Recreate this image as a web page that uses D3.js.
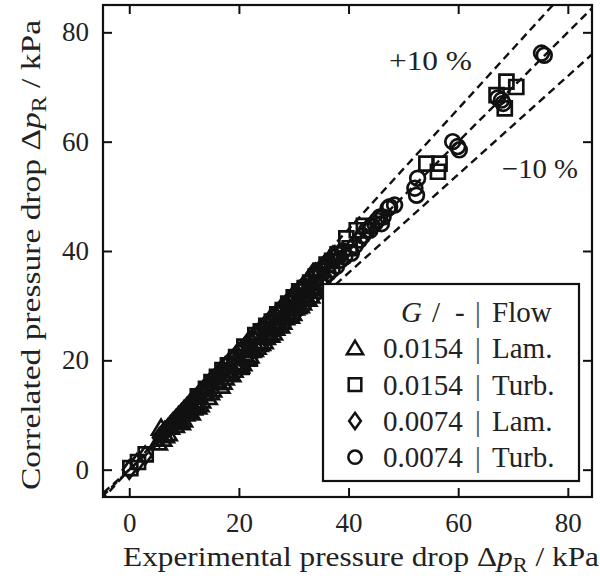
<!DOCTYPE html>
<html>
<head>
<meta charset="utf-8">
<script src="https://cdn.jsdelivr.net/npm/d3@7"></script>
<style>
  body { margin: 0; background: #fff; }
  svg text { font-family: "Liberation Serif", "DejaVu Serif", serif; fill: #222; }
</style>
</head>
<body>
<div class="canvas"></div>
<script>
// measured data, [experimental, correlated] in kPa
const lam0154 = [[5.2,4.9],[5.8,7.6],[6.0,5.6],[6.5,6.2],[7.0,6.6],[7.4,7.8],[8.3,8.1],[8.7,8.9],
  [9.0,9.6],[9.4,8.6],[9.8,9.1],[10.2,10.2],[10.5,10.9],[11.2,10.4],[11.6,11.3],[12.0,12.3],
  [12.4,11.5],[12.8,11.9],[13.1,12.6],[13.5,13.9],[14.3,13.2],[14.7,14.1],[15.1,14.6],[15.8,16.2],
  [16.2,15.9],[16.6,15.3],[17.0,16.0],[17.4,16.8],[17.8,17.6],[18.1,17.5],[18.6,17.4],[19.0,18.2],
  [19.4,18.9],[19.8,19.6],[20.2,19.0],[20.6,19.4],[21.1,20.8],[21.5,20.3],[21.9,20.8],[22.3,21.8],
  [22.7,22.0],[23.2,22.4],[23.6,22.9],[24.0,23.1],[24.5,23.4],[24.9,24.2],[25.3,24.8],[25.7,24.6],
  [26.2,25.0],[26.6,25.9],[27.0,26.4],[27.5,26.3],[27.9,27.0],[28.4,27.8],[28.8,28.2],[29.3,28.1],
  [29.7,28.6],[30.2,29.6],[30.6,29.8],[31.1,30.0],[31.5,30.5],[32.0,31.4],[32.5,31.2],[33.0,31.8],
  [33.5,32.6],[34.0,33.1],[34.6,33.5],[35.3,34.3]];
const turb0154 = [[0.2,0.3],[1.6,1.4],[3.0,2.8],[12.5,13.4],[14.0,14.8],[15.0,16.0],[16.0,17.0],
  [17.0,18.2],[18.0,19.1],[19.5,20.6],[20.5,18.8],[21.0,22.5],[22.0,20.3],[23.0,24.6],[24.0,25.3],
  [25.0,26.3],[26.0,27.1],[27.0,28.4],[28.0,29.2],[29.0,30.4],[30.0,31.5],[31.0,32.6],[32.0,33.2],
  [33.0,34.2],[34.0,35.3],[35.0,36.4],[36.0,37.5],[37.0,38.2],[38.0,39.4],[39.6,42.3],[40.2,40.5],
  [41.5,43.8],[42.8,44.6],[54.2,56.0],[56.6,56.0],[56.3,54.5],[67.0,68.5],[68.8,71.0],[70.6,70.0],
  [68.5,66.1]];
const lam0074 = [[0,0],[1.4,1.2],[2.9,2.6],[5.5,5.9],[6,6.4],[6.5,7.1],[7,7.5],[7.5,8.1],[8,8.7],
  [8.5,9.2],[9,9.8],[9.5,10.3],[10,10.9],[10.5,11.4],[11,12.0],[11.5,12.5],[12,13.0],[12.5,13.5],
  [13,14.1],[13.5,14.6],[14,15.0],[14.5,15.7],[15,16.2],[15.5,16.6],[16,17.2],[16.5,17.8],[17,18.3],
  [17.5,18.9],[18,19.4],[18.5,18.0],[19,20.3],[19.5,21.0],[20,21.5],[20.5,21.9],[21,22.4],[21.5,23.1],
  [22,23.6],[22.5,24.1],[23,24.5],[23.5,25.0],[24,25.6],[24.5,26.1],[25,26.6],[25.5,27.2],[26,27.6],
  [26.5,26.0],[27,28.7],[27.5,29.2],[28,29.6],[28.5,30.1],[29,30.8],[29.5,31.3],[30,31.7],[30.5,32.2],
  [31,32.8],[31.5,33.3],[32,33.6],[32.5,34.4],[33,35.0],[33.5,35.9],[34,36.0],[34.5,36.2],[35,36.8],
  [35.5,37.2],[36,37.7],[36.5,38.3],[37,39.0],[37.5,39.2]];
const turb0074 = [[25,24.8],[25.8,25.2],[26.5,26.1],[27.3,26.7],[28,27.6],[28.8,28.4],[29.5,29.0],
  [30.3,29.7],[31,30.4],[31.8,31.5],[32.5,32.3],[33.3,32.8],[34,33.6],[34.8,34.4],[35.5,35.0],
  [36.3,35.9],[37,36.6],[37.8,37.2],[38.2,39.4],[38.5,38.3],[39.0,40.0],[39.3,38.9],[40.5,39.6],
  [41.2,41.0],[42,42],[42.6,42.8],[43.3,43.8],[43.9,43.8],[44.2,44.6],[44.8,45],[45.2,45.6],
  [45.7,46.2],[46,45],[46.3,46.2],[47.2,47.8],[47.5,48.1],[48.4,48.4],[52.1,51.5],[52.4,50.2],
  [52.6,53.3],[59,60],[59.9,59.1],[60.2,58.5],[67.2,68.0],[67.9,67.6],[68.2,67.0],[75.2,76.2],
  [75.7,75.8]];

const ticks = [0, 20, 40, 60, 80];
const bandFactors = [1.1, 1.0, 0.9];
const legendRows = [
  { shape: 'tri', g: '0.0154', flow: 'Lam.' },
  { shape: 'sq', g: '0.0154', flow: 'Turb.' },
  { shape: 'dia', g: '0.0074', flow: 'Lam.' },
  { shape: 'circ', g: '0.0074', flow: 'Turb.' }
];

const W = 600, H = 583;
const margin = { top: 5, right: 8, bottom: 86, left: 103 };

const svg = d3.select('.canvas').append('svg')
  .attr('width', W).attr('height', H);

const x = d3.scaleLinear().domain([-4.79, 84.41]).range([margin.left, W - margin.right]);
const y = d3.scaleLinear().domain([-5, 85]).range([H - margin.bottom, margin.top]);

svg.append('clipPath').attr('id', 'plotclip')
  .append('rect')
  .attr('x', margin.left).attr('y', margin.top)
  .attr('width', W - margin.left - margin.right)
  .attr('height', H - margin.top - margin.bottom);

const plot = svg.append('g').attr('clip-path', 'url(#plotclip)');

// +-10 % lines and the diagonal
const band = d3.line().x(d => x(d[0])).y(d => y(d[1]));
bandFactors.forEach(f => {
  plot.append('path')
    .attr('d', band([[-10, -10 * f], [100, 100 * f]]))
    .attr('fill', 'none')
    .attr('stroke', '#111')
    .attr('stroke-width', 2.4)
    .attr('stroke-dasharray', '8,5');
});

const shapes = {
  tri: 'M0,-8.5L9,6.5L-9,6.5Z',
  sq: 'M-7,-7H7V7H-7Z',
  dia: 'M0,-9L6.5,0L0,9L-6.5,0Z',
  circ: d3.symbol().type(d3.symbolCircle).size(Math.PI * 7.4 * 7.4)()
};

function drawSeries(data, shape) {
  plot.append('g').selectAll('path')
    .data(data)
    .enter().append('path')
      .attr('d', shapes[shape])
      .attr('transform', d => `translate(${x(d[0])},${y(d[1])})`)
      .attr('fill', 'none')
      .attr('stroke', '#111')
      .attr('stroke-width', 2.7);
}
drawSeries(lam0154, 'tri');
drawSeries(lam0074, 'dia');
drawSeries(turb0154, 'sq');
drawSeries(turb0074, 'circ');

// axes, ticks pointing inwards on all four sides
const tickLen = 9;
const axB = d3.axisBottom(x).tickValues(ticks).tickSize(-tickLen).tickPadding(16);
const axL = d3.axisLeft(y).tickValues(ticks).tickSize(-tickLen).tickPadding(14);
const axT = d3.axisTop(x).tickValues(ticks).tickSize(-tickLen).tickFormat('');
const axR = d3.axisRight(y).tickValues(ticks).tickSize(-tickLen).tickFormat('');

const gB = svg.append('g').attr('transform', `translate(0,${H - margin.bottom})`).call(axB);
const gL = svg.append('g').attr('transform', `translate(${margin.left},0)`).call(axL);
const gT = svg.append('g').attr('transform', `translate(0,${margin.top})`).call(axT);
const gR = svg.append('g').attr('transform', `translate(${W - margin.right},0)`).call(axR);

[gB, gL, gT, gR].forEach(g => {
  g.select('.domain').remove();
  g.selectAll('.tick line').attr('stroke', '#111').attr('stroke-width', 2);
  g.selectAll('.tick text').style('font-size', '27px').attr('fill', '#222')
    .style('font-family', '"Liberation Serif", serif');
});

svg.append('rect')
  .attr('x', margin.left).attr('y', margin.top)
  .attr('width', W - margin.left - margin.right)
  .attr('height', H - margin.top - margin.bottom)
  .attr('fill', 'none').attr('stroke', '#111').attr('stroke-width', 2.2);

// annotations
svg.append('text').attr('x', 389).attr('y', 70)
  .attr('textLength', 83).attr('lengthAdjust', 'spacingAndGlyphs')
  .style('font-size', '28px').text('+10 %');
svg.append('text').attr('x', 502).attr('y', 178)
  .attr('textLength', 76).attr('lengthAdjust', 'spacingAndGlyphs')
  .style('font-size', '28px').text('\u221210 %');

// axis labels
const xl = svg.append('text')
  .attr('x', 123).attr('y', 566)
  .attr('textLength', 476).attr('lengthAdjust', 'spacingAndGlyphs')
  .style('font-size', '28px');
xl.append('tspan').text('Experimental pressure drop \u0394');
xl.append('tspan').style('font-style', 'italic').text('p');
xl.append('tspan').attr('dy', 6).style('font-size', '20px').text('R');
xl.append('tspan').attr('dy', -6).text(' / kPa');

const yl = svg.append('text')
  .attr('transform', 'translate(40,490) rotate(-90)')
  .attr('textLength', 470).attr('lengthAdjust', 'spacingAndGlyphs')
  .style('font-size', '28px');
yl.append('tspan').text('Correlated pressure drop \u0394');
yl.append('tspan').style('font-style', 'italic').text('p');
yl.append('tspan').attr('dy', 6).style('font-size', '20px').text('R');
yl.append('tspan').attr('dy', -6).text(' / kPa');

// legend
const lg = svg.append('g');
lg.append('rect')
  .attr('x', 323).attr('y', 284).attr('width', 256).attr('height', 197)
  .attr('fill', '#fff').attr('stroke', '#111').attr('stroke-width', 2.2);

const rowY = i => 312 + i * 36.3;
const head = lg.append('text').attr('y', rowY(0) + 10).style('font-size', '29px');
head.append('tspan').attr('x', 401).style('font-style', 'italic').text('G');
head.append('tspan').attr('x', 432).text('/');
head.append('tspan').attr('x', 455).text('-');
head.append('tspan').attr('x', 475).style('fill', '#444').text('|');
head.append('tspan').attr('x', 492).text('Flow');

legendRows.forEach((r, i) => {
  const cy = rowY(i + 1);
  lg.append('path')
    .attr('d', shapes[r.shape])
    .attr('transform', `translate(355,${cy}) scale(0.9)`)
    .attr('fill', 'none').attr('stroke', '#111').attr('stroke-width', 2.8);
  const t = lg.append('text').attr('y', cy + 10).style('font-size', '29px');
  t.append('tspan').attr('x', 383).text(r.g);
  t.append('tspan').attr('x', 475).style('fill', '#444').text('|');
  t.append('tspan').attr('x', 492).text(r.flow);
});
</script>
</body>
</html>
